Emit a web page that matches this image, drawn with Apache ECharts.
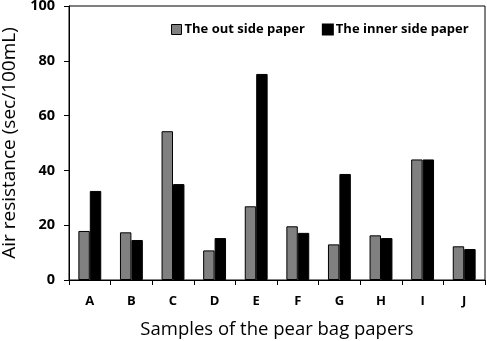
<!DOCTYPE html>
<html><head><meta charset="utf-8">
<script src="https://cdn.jsdelivr.net/npm/echarts@6/dist/echarts.min.js"></script>
<style>html,body{margin:0;padding:0;background:#fff}#c{width:487px;height:341px}</style>
</head><body><div id="c"></div>
<script>
var categories = ['A','B','C','D','E','F','G','H','I','J'];
var outSide = [17.9, 17.4, 54.3, 10.8, 26.9, 19.6, 13.0, 16.3, 44.0, 12.3];
var innerSide = [32.5, 14.6, 35.0, 15.3, 75.2, 17.2, 38.7, 15.3, 44.0, 11.3];
var seriesNames = ['The out side paper', 'The inner side paper'];
var yTitle = 'Air resistance (sec/100mL)';
var xTitle = 'Samples of the pear bag papers';

var font = '"Open Sans", "Noto Sans", sans-serif';
var chart = echarts.init(document.getElementById('c'));
chart.setOption({
  animation: false,
  textStyle: {fontFamily: font},
  grid: {left: 69, right: 2, top: 6, bottom: 61, show: true, borderColor: '#000', borderWidth: 1,
         containLabel: false, outerBoundsMode: 'none'},
  legend: {
    left: 166, top: 18, itemWidth: 10, itemHeight: 10, itemGap: 17,
    icon: 'rect',
    textStyle: {fontSize: 13, fontWeight: 'bold', color: '#000', fontFamily: font, padding: [0,0,0,-2]},
    data: [
      {name: seriesNames[0], itemStyle: {color: '#808080', borderColor: '#000', borderWidth: 1}},
      {name: seriesNames[1], itemStyle: {color: '#000'}}
    ]
  },
  xAxis: {
    type: 'category', data: categories,
    name: xTitle, nameLocation: 'middle', nameGap: 40,
    nameTextStyle: {fontSize: 18.5, color: '#000', fontFamily: font},
    axisLine: {lineStyle: {color: '#000'}},
    axisTick: {show: true, lineStyle: {color: '#000'}, length: 5},
    axisLabel: {fontSize: 13, fontWeight: 'bold', color: '#000', margin: 15}
  },
  yAxis: {
    type: 'value', min: 0, max: 100, interval: 20,
    name: yTitle, nameLocation: 'middle', nameGap: 44,
    nameTextStyle: {fontSize: 19, color: '#000', fontFamily: font},
    axisLine: {show: true, lineStyle: {color: '#000'}},
    axisTick: {show: true, lineStyle: {color: '#000'}, length: 5},
    splitLine: {show: false},
    axisLabel: {fontSize: 14.5, fontWeight: 'bold', color: '#000', margin: 14}
  },
  series: [
    {name: seriesNames[0], type: 'bar', data: outSide, barGap: '0%', barCategoryGap: '45%',
     itemStyle: {color: '#808080', borderColor: '#000', borderWidth: 1}},
    {name: seriesNames[1], type: 'bar', data: innerSide,
     itemStyle: {color: '#000', borderColor: '#000', borderWidth: 1}}
  ]
});
</script></body></html>
